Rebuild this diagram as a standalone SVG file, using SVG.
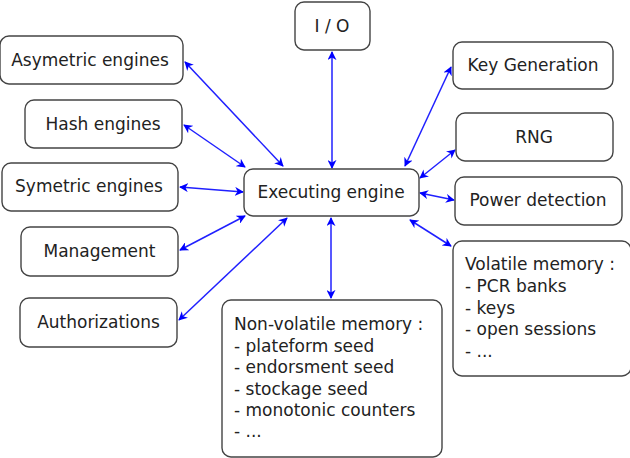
<svg xmlns="http://www.w3.org/2000/svg" width="630" height="458" viewBox="0 0 630 458">
<defs>
<marker id="ah" viewBox="0 0 10 10" refX="9" refY="5" markerWidth="9" markerHeight="9" orient="auto-start-reverse" markerUnits="userSpaceOnUse">
<path d="M0,0 L10,5 L0,10 L3,5 Z" fill="#0000ff"/>
</marker>
</defs>
<style>
.box{fill:#fff;stroke:#444;stroke-width:1.4}
.t{font-family:"DejaVu Sans",sans-serif;font-size:17px;fill:#222}
.c{text-anchor:middle}
.e{stroke:#2020ff;stroke-width:1.5;fill:none;marker-start:url(#ah);marker-end:url(#ah)}
</style>
<g id="connectors">
<line class="e" x1="185" y1="62" x2="283" y2="166"/>
<line class="e" x1="184" y1="125" x2="245" y2="167"/>
<line class="e" x1="180" y1="187" x2="243" y2="192"/>
<line class="e" x1="180" y1="250" x2="245" y2="216"/>
<line class="e" x1="179" y1="320" x2="287" y2="218"/>
<line class="e" x1="332" y1="52" x2="332" y2="168"/>
<line class="e" x1="451" y1="67" x2="405" y2="166"/>
<line class="e" x1="455" y1="150" x2="420" y2="178"/>
<line class="e" x1="454" y1="200" x2="420" y2="193"/>
<line class="e" x1="451" y1="246" x2="410" y2="220"/>
<line class="e" x1="331" y1="298" x2="331" y2="218"/>
</g>
<g id="asym"><rect class="box" x="0" y="36" width="183" height="48" rx="9"/><text class="t c" x="90" y="66">Asymetric engines</text></g>
<g id="hash"><rect class="box" x="25" y="100" width="157" height="48" rx="9"/><text class="t c" x="103" y="130">Hash engines</text></g>
<g id="sym"><rect class="box" x="2" y="163" width="176" height="48" rx="9"/><text class="t c" x="89" y="192">Symetric engines</text></g>
<g id="mgmt"><rect class="box" x="21" y="227" width="157" height="49" rx="9"/><text class="t c" x="99.5" y="257">Management</text></g>
<g id="auth"><rect class="box" x="20" y="298" width="157" height="49" rx="9"/><text class="t c" x="98.5" y="328">Authorizations</text></g>
<g id="exec"><rect class="box" x="244" y="169" width="175" height="47" rx="9"/><text class="t c" x="331" y="198">Executing engine</text></g>
<g id="io"><rect class="box" x="295" y="2" width="75" height="48" rx="9"/><text class="t c" x="332" y="32">I / O</text></g>
<g id="keygen"><rect class="box" x="453" y="42" width="160" height="47" rx="9"/><text class="t c" x="533" y="71">Key Generation</text></g>
<g id="rng"><rect class="box" x="456" y="113" width="157" height="48" rx="9"/><text class="t c" x="534" y="143">RNG</text></g>
<g id="power"><rect class="box" x="455" y="177" width="167" height="48" rx="9"/><text class="t c" x="538" y="206">Power detection</text></g>
<g id="volatile"><rect class="box" x="453" y="241" width="178" height="135" rx="9"/>
<text class="t" x="465" y="270">Volatile memory :</text>
<text class="t" x="465" y="292">- PCR banks</text>
<text class="t" x="465" y="314">- keys</text>
<text class="t" x="465" y="335">- open sessions</text>
<text class="t" x="465" y="357">- ...</text>
</g>
<g id="nonvolatile"><rect class="box" x="222" y="300" width="220" height="157" rx="9"/>
<text class="t" x="234" y="330">Non-volatile memory :</text>
<text class="t" x="234" y="352">- plateform seed</text>
<text class="t" x="234" y="373">- endorsment seed</text>
<text class="t" x="234" y="395">- stockage seed</text>
<text class="t" x="234" y="416">- monotonic counters</text>
<text class="t" x="234" y="437">- ...</text>
</g>
</svg>
